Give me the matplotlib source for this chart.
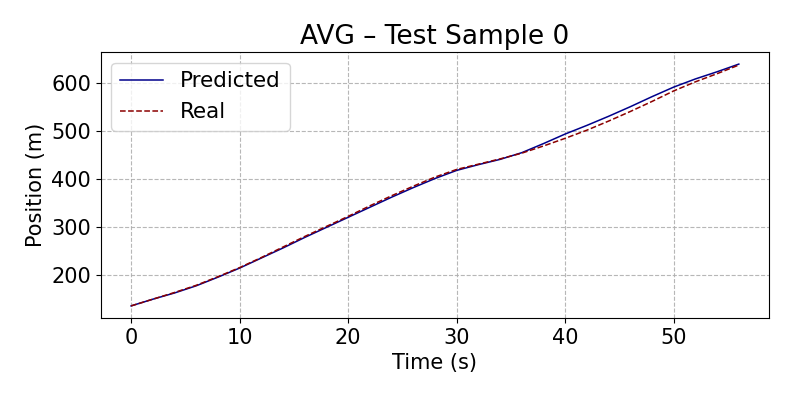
import matplotlib.pyplot as plt

# tiempo (s)
time_s = [0, 2, 4, 6, 8, 10, 12, 14, 16, 18, 20, 22, 24, 26, 28,
          30, 32, 34, 36, 38, 40, 42, 44, 46, 48, 50, 52, 54, 56]

predicted = [135, 149, 162, 177, 195, 214, 235, 256, 278, 299, 320, 341, 362, 382, 401,
             418, 430, 441, 455, 474, 494, 512, 531, 551, 572, 592, 609, 624, 640]

real = [135, 149, 163, 178, 196, 215, 236, 258, 280, 301, 322, 344, 365, 385, 404,
        420, 431, 442, 454, 469, 485, 502, 521, 541, 562, 584, 603, 620, 638]

fig, ax = plt.subplots(figsize=(7.93, 3.97), dpi=100)
ax.plot(time_s, predicted, color='darkblue', linewidth=1.1, label='Predicted')
ax.plot(time_s, real, color='darkred', linestyle='--', linewidth=1.1, label='Real')

ax.set_title('AVG – Test Sample 0', fontsize=19)
ax.set_xlabel('Time (s)', fontsize=15)
ax.set_ylabel('Position (m)', fontsize=15)
ax.tick_params(labelsize=15)
ax.legend(fontsize=15.5, loc='upper left')
ax.grid(True, linestyle='--', color='#b0b0b0', alpha=0.9)

plt.subplots_adjust(left=0.127, right=0.970, top=0.869, bottom=0.199)
plt.savefig('out.png')
